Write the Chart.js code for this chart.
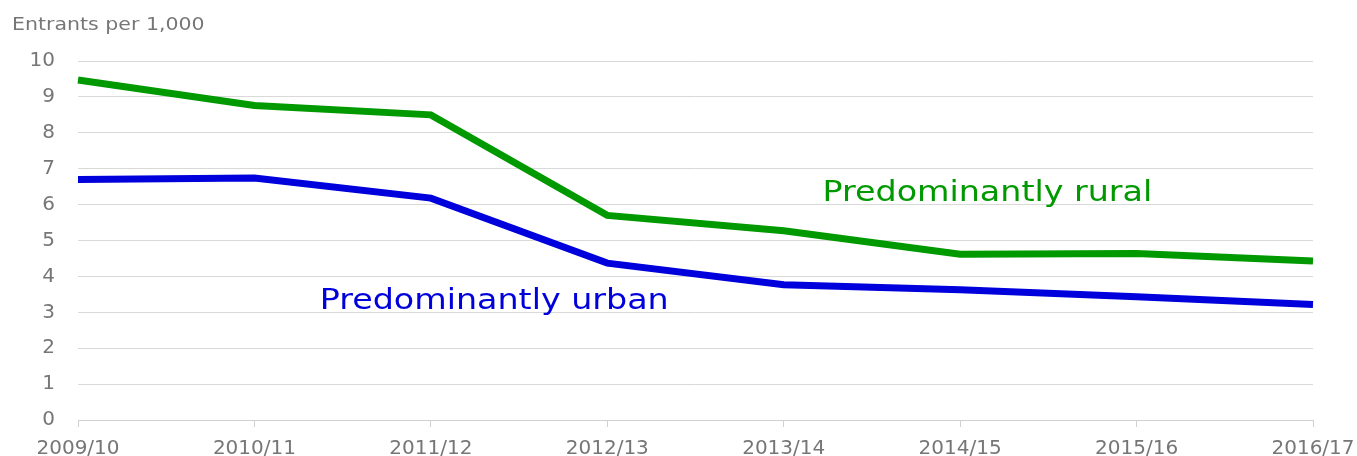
<!DOCTYPE HTML>
<html>
<head>
    <title>Entrants per 1,000</title>
    <meta charset="utf-8">
    <script src="https://cdn.jsdelivr.net/npm/chart.js@4/dist/chart.umd.min.js"></script>
    <style>
        html, body { margin: 0; padding: 0; background: #fff; }
        .container { position: relative; width: 1357px; height: 456px; }
    </style>
</head>
<body>
    <section class="container">
        <canvas id="entrants-chart" width="1357" height="456"></canvas>
    </section>
    <script>
        // data
        var years = ['2009/10', '2010/11', '2011/12', '2012/13', '2013/14', '2014/15', '2015/16', '2016/17'];
        var rural = [9.47, 8.76, 8.5, 5.7, 5.27, 4.62, 4.64, 4.43];
        var urban = [6.7, 6.74, 6.18, 4.37, 3.77, 3.63, 3.43, 3.22];
        var yTicks = [0, 1, 2, 3, 4, 5, 6, 7, 8, 9, 10];

        var GREEN = '#009900';
        var BLUE = '#0000dd';
        var GREY = '#767676';

        // in-chart series labels, placed through the scales
        var seriesLabels = [
            { text: 'Predominantly rural', at: 4.22, value: 6.3, color: GREEN },
            { text: 'Predominantly urban', at: 1.37, value: 3.3, color: BLUE }
        ];

        // reference face is wider than DejaVu, so stretch text a little
        function wideText(ctx, text, px, py, sx) {
            ctx.save();
            ctx.translate(px, py);
            ctx.scale(sx, 1);
            ctx.fillText(text, 0, 0);
            ctx.restore();
        }

        var labelPlugin = {
            id: 'labels',
            afterDraw: function (chart) {
                var ctx = chart.ctx;
                var x = chart.scales.x, y = chart.scales.y;
                ctx.save();
                ctx.textBaseline = 'middle';
                ctx.textAlign = 'left';
                // axis title, top left
                ctx.font = '18px "DejaVu Sans"';
                ctx.fillStyle = GREY;
                wideText(ctx, 'Entrants per 1,000', 12, 25, 1.14);
                // series labels
                ctx.font = '28px "DejaVu Sans"';
                seriesLabels.forEach(function (l) {
                    ctx.fillStyle = l.color;
                    wideText(ctx, l.text, x.getPixelForValue(l.at), y.getPixelForValue(l.value), 1.19);
                });
                ctx.restore();
            }
        };

        new Chart(document.getElementById('entrants-chart'), {
            type: 'line',
            data: {
                labels: years,
                datasets: [
                    { label: 'Predominantly rural', data: rural, borderColor: GREEN, borderWidth: 7, pointRadius: 0, tension: 0 },
                    { label: 'Predominantly urban', data: urban, borderColor: BLUE, borderWidth: 7, pointRadius: 0, tension: 0 }
                ]
            },
            options: {
                responsive: false,
                animation: false,
                layout: { padding: { top: 61, right: 44, left: 0, bottom: 0 } },
                plugins: { legend: { display: false }, tooltip: { enabled: false } },
                scales: {
                    x: {
                        offset: false,
                        grid: { drawOnChartArea: false, drawTicks: true, tickLength: 7, color: '#d0d0d0' },
                        border: { display: true, color: '#d0d0d0', width: 1 },
                        ticks: { color: GREY, font: { family: 'DejaVu Sans', size: 20 }, padding: 10, maxRotation: 0, autoSkip: false },
                        afterFit: function (s) {
                            s.height = 36;
                            s.paddingLeft = 0;
                            s.paddingRight = 0;
                        }
                    },
                    y: {
                        min: 0,
                        max: 10,
                        afterBuildTicks: function (s) { s.ticks = yTicks.map(function (v) { return { value: v }; }); },
                        grid: { color: '#d9d9d9', drawTicks: false },
                        border: { display: false },
                        ticks: { color: GREY, font: { family: 'DejaVu Sans', size: 20 }, padding: 23 },
                        afterFit: function (s) { s.width = 78; }
                    }
                }
            },
            plugins: [labelPlugin]
        });
    </script>
</body>
</html>
